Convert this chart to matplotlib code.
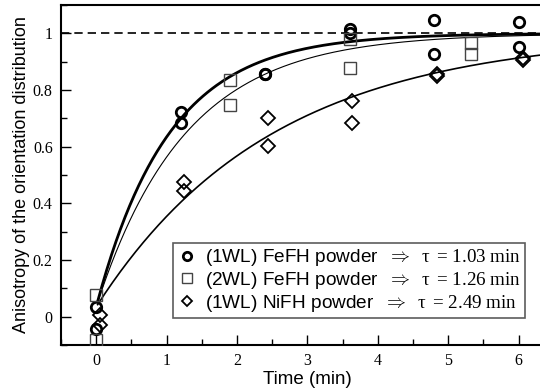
import numpy as np
import matplotlib
matplotlib.use("Agg")
import matplotlib.pyplot as plt

plt.rcParams['font.family'] = ['Liberation Serif', 'DejaVu Serif']
plt.rcParams['mathtext.fontset'] = 'custom'
plt.rcParams['mathtext.rm'] = 'Liberation Serif'
plt.rcParams['mathtext.it'] = 'Liberation Serif:italic'

# measured points (time in min, anisotropy)
t_fe1 = [0.0, 0.0, 1.2, 1.2, 2.4, 2.4, 3.6, 3.6, 4.8, 4.8, 6.0, 6.0]
a_fe1 = [0.033, -0.043, 0.724, 0.683, 0.858, 0.855, 1.015, 1.002, 1.046, 0.926, 1.039, 0.952]

t_fe2 = [0.0, 0.0, 1.9, 1.9, 3.6, 3.6, 5.33, 5.33]
a_fe2 = [0.077, -0.081, 0.837, 0.748, 0.981, 0.879, 0.967, 0.928]

t_ni = [0.06, 0.06, 1.24, 1.24, 2.44, 2.44, 3.64, 3.64, 4.84, 4.84, 6.06, 6.06]
a_ni = [0.005, -0.028, 0.477, 0.442, 0.700, 0.602, 0.761, 0.684, 0.855, 0.848, 0.912, 0.905]

# fitted relaxation times (min) and starting level of the fits
taus = [1.03, 1.26, 2.49]
y0 = 0.035
labels = ["(1WL) FeFH powder", "(2WL) FeFH powder", "(1WL) NiFH powder"]

fig = plt.figure(figsize=(5.4, 3.89), dpi=100)
ax = fig.add_axes([0.113, 0.113, 0.9126, 0.874])

# fit curves y = y0 + (1 - y0)(1 - exp(-t/tau))
tt = np.linspace(0.02, 6.5, 300)
for tau, lw in zip(taus, [2.0, 0.8, 1.2]):
    ax.plot(tt, y0 + (1 - y0) * (1 - np.exp(-tt / tau)), color='black', lw=lw, zorder=2)

ax.axhline(1.0, color='black', ls=(0, (5, 3)), lw=1.2, zorder=1)


def lab(i):
    return labels[i] + r"  $\Rightarrow\ \ \mathrm{τ}\ {=}\,\mathrm{%.2f\ min}$" % taus[i]


ax.plot(t_fe1, a_fe1, 'o', mfc='none', mec='black', mew=2.0, ms=7.5, ls='none', zorder=3,
        label=lab(0))
ax.plot(t_fe2, a_fe2, 's', mfc='none', mec='#444444', mew=1.0, ms=8.5, ls='none', zorder=3,
        label=lab(1))
ax.plot(t_ni, a_ni, 'D', mfc='none', mec='black', mew=1.3, ms=7, ls='none', zorder=3,
        label=lab(2))

ax.set_xlim(-0.5, 6.5)
ax.set_ylim(-0.1, 1.1)
ax.set_xticks([0, 1, 2, 3, 4, 5, 6])
ax.set_xticks(np.arange(-0.5, 6.6, 0.5), minor=True)
ax.set_yticks([0, 0.2, 0.4, 0.6, 0.8, 1])
ax.set_yticklabels(['0', '0.2', '0.4', '0.6', '0.8', '1'])
ax.set_yticks(np.arange(-0.1, 1.11, 0.1), minor=True)
ax.tick_params(which='major', direction='in', length=7, width=1.0, right=False, top=False,
               labelsize=11.5, pad=6)
ax.tick_params(which='minor', direction='in', length=4, width=1.0, right=False, top=False)

for s in ax.spines.values():
    s.set_linewidth(1.5)
ax.spines['right'].set_visible(False)

ax.set_xlabel("Time (min)", fontsize=13.5, family='Liberation Sans', labelpad=1)
ax.set_ylabel("Anisotropy of the orientation distribution", fontsize=13, family='Liberation Sans',
              labelpad=2)

leg = ax.legend(loc='lower right', bbox_to_anchor=(0.9415, 0.08), borderaxespad=0,
                frameon=True, fancybox=False, prop={'family': 'Liberation Sans', 'size': 13.7},
                handletextpad=0.4, handlelength=1.1, borderpad=0.2, labelspacing=0.1,
                markerscale=0.8)
leg.get_frame().set_edgecolor('#333333')
leg.get_frame().set_linewidth(1.2)

fig.savefig("out.png", dpi=100)
